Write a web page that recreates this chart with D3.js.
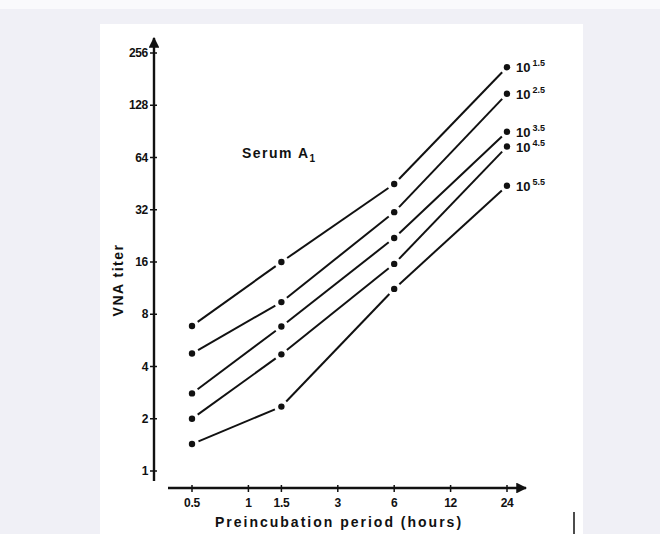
<!DOCTYPE html>
<html>
<head>
<meta charset="utf-8">
<script src="https://cdn.jsdelivr.net/npm/d3@7"></script>
<style>
  body { margin: 0; background: #f0f0f6; }
  svg { display: block; }
  text { font-family: "Liberation Sans", Arial, sans-serif; font-weight: bold; fill: #111; }
</style>
</head>
<body>
<svg id="chart" width="660" height="534"></svg>
<script>
// preincubation period (hours), log scale
const hours = [0.5, 1.5, 6, 24]
const xTicks = [0.5, 1, 1.5, 3, 6, 12, 24]
const yTicks = [1, 2, 4, 8, 16, 32, 64, 128, 256]

// virus dose labels and VNA titer per series
const doseExp = ["1.5", "2.5", "3.5", "4.5", "5.5"]
const titer15 = [6.85, 16, 45, 212]
const titer25 = [4.75, 9.4, 31, 149]
const titer35 = [2.8, 6.8, 22, 90]
const titer45 = [2.0, 4.7, 15.6, 74]
const titer55 = [1.43, 2.35, 11.2, 44]
const allSeries = [titer15, titer25, titer35, titer45, titer55]

const svg = d3.select('#chart')

// top strip and white paper panel
svg.append('rect').attr('x', 0).attr('y', 0).attr('width', 660).attr('height', 9).attr('fill', '#fafafc')
svg.append('rect').attr('x', 100).attr('y', 24).attr('width', 483).attr('height', 510).attr('fill', '#fff')

const x = d3.scaleLog().base(2).domain([0.5, 24]).range([192, 507])
const y = d3.scaleLog().base(2).domain([1, 256]).range([471, 53])

// arrow head
svg.append('defs').append('marker')
  .attr('id', 'arr').attr('viewBox', '0 0 10 10').attr('refX', 9).attr('refY', 5)
  .attr('markerWidth', 4.5).attr('markerHeight', 4.5).attr('orient', 'auto')
  .append('path').attr('d', 'M0,0 L10,5 L0,10 z').attr('fill', '#111')

// y axis
svg.append('line').attr('x1', 154).attr('x2', 154).attr('y1', 481).attr('y2', 38)
  .attr('stroke', '#111').attr('stroke-width', 2.4).attr('marker-end', 'url(#arr)')
const yAxis = svg.append('g').selectAll('g').data(yTicks).join('g')
  .attr('transform', d => `translate(154,${y(d)})`)
yAxis.append('line').attr('x1', -4).attr('x2', 3).attr('stroke', '#111').attr('stroke-width', 1.5)
yAxis.append('text').attr('x', -6).attr('dy', '0.35em').attr('text-anchor', 'end')
  .style('font-size', '12px').style('letter-spacing', '-0.3px').text(d => d)

// x axis
svg.append('line').attr('x1', 168).attr('x2', 526).attr('y1', 488).attr('y2', 488)
  .attr('stroke', '#111').attr('stroke-width', 2.4).attr('marker-end', 'url(#arr)')
const xAxis = svg.append('g').selectAll('g').data(xTicks).join('g')
  .attr('transform', d => `translate(${x(d)},488)`)
xAxis.append('line').attr('y1', -3).attr('y2', 4).attr('stroke', '#111').attr('stroke-width', 1.5)
xAxis.append('text').attr('y', 19).attr('text-anchor', 'middle')
  .style('font-size', '12px').style('letter-spacing', '-0.3px').text(d => d)

// axis titles
svg.append('text').attr('x', 339).attr('y', 527).attr('text-anchor', 'middle')
  .style('font-size', '14px').style('letter-spacing', '2px').text('Preincubation period (hours)')
svg.append('text').attr('transform', 'translate(123,280) rotate(-90)').attr('text-anchor', 'middle')
  .style('font-size', '14px').style('letter-spacing', '1.5px').text('VNA titer')

// serum label
const serum = svg.append('text').attr('x', 242).attr('y', 158)
  .style('font-size', '14px').style('letter-spacing', '1.5px')
serum.append('tspan').text('Serum A')
serum.append('tspan').attr('dy', 4).style('font-size', '10px').text('1')

// lines with gaps near the dots
const gap = 7
allSeries.forEach(vals => {
  const pts = vals.map((v, i) => [x(hours[i]), y(v)])
  for (let i = 0; i < pts.length - 1; i++) {
    const [x0, y0] = pts[i], [x1, y1] = pts[i + 1]
    const len = Math.hypot(x1 - x0, y1 - y0)
    const ux = (x1 - x0) / len, uy = (y1 - y0) / len
    svg.append('line')
      .attr('x1', x0 + ux * gap).attr('y1', y0 + uy * gap)
      .attr('x2', x1 - ux * gap).attr('y2', y1 - uy * gap)
      .attr('stroke', '#111').attr('stroke-width', 2)
  }
  svg.append('g').selectAll('circle').data(pts).join('circle')
    .attr('cx', d => d[0]).attr('cy', d => d[1]).attr('r', 3.2).attr('fill', '#111')
})

// dose labels at the last point
allSeries.forEach((vals, i) => {
  const t = svg.append('text').attr('x', x(24) + 9).attr('y', y(vals[vals.length - 1]) + 5)
    .style('font-size', '13px')
  t.append('tspan').text('10')
  t.append('tspan').attr('dx', 2).attr('dy', -6).style('font-size', '9px').text(doseExp[i])
})

// stray scan mark bottom right
svg.append('line').attr('x1', 574).attr('x2', 574).attr('y1', 512).attr('y2', 534)
  .attr('stroke', '#111').attr('stroke-width', 1.5)
</script>
</body>
</html>
